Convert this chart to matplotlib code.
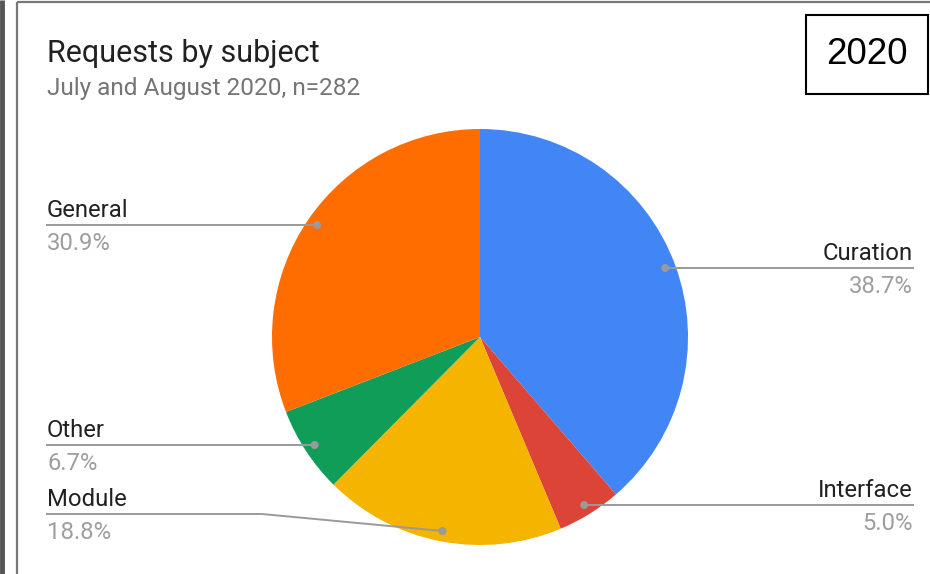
import numpy as np
import matplotlib.pyplot as plt
from matplotlib.patches import Rectangle, Circle

# chart data
subjects = ["Curation", "Interface", "Module", "Other", "General"]
shares = [38.7, 5.0, 18.8, 6.7, 30.9]
colors = ["#4285F4", "#DB4437", "#F4B400", "#0F9D58", "#FF6D01"]
title = "Requests by subject"
subtitle = "July and August 2020, n=282"
year_tag = "2020"

W, H = 930, 574
fig = plt.figure(figsize=(W / 100, H / 100), dpi=100)
ax = fig.add_axes([0, 0, 1, 1])

def Y(y):  # pixel row from top -> data y
    return H - y

cx, cy, R = 480, Y(337), 208
wedges, _ = ax.pie(shares, colors=colors, startangle=90, counterclock=False,
                   center=(cx, cy), radius=R, frame=True,
                   wedgeprops=dict(linewidth=0))
ax.set_xlim(0, W)
ax.set_ylim(0, H)
ax.set_aspect("equal")
ax.axis("off")

# frame lines
ax.plot([2, 2], [0, H], color="#555555", lw=3.5, solid_capstyle="butt")
ax.plot([17, 17], [0, Y(2)], color="#777777", lw=1.6, solid_capstyle="butt")
ax.plot([17, W], [Y(2), Y(2)], color="#777777", lw=1.6, solid_capstyle="butt")

# label layout: side, line y (px from top), elbow x
layout = {
    "Curation": ("right", 268, None),
    "Interface": ("right", 505, None),
    "Module": ("left", 514, 262),
    "Other": ("left", 445, None),
    "General": ("left", 225, None),
}

line_c = "#9a9a9a"
for w, name, val in zip(wedges, subjects, shares):
    ang = np.deg2rad((w.theta1 + w.theta2) / 2)
    dx = cx + 0.95 * R * np.cos(ang)
    dy = cy + 0.95 * R * np.sin(ang)
    side, ly, elbow = layout[name]
    ly = Y(ly)
    if side == "right":
        xe, ha = 913, "right"
    else:
        xe, ha = 47, "left"
    if elbow is None:
        ax.plot([dx, xe], [ly, ly], color=line_c, lw=1.4, zorder=3)
    else:
        ax.plot([dx, elbow, xe], [dy, ly, ly], color=line_c, lw=1.4, zorder=3)
    ax.add_patch(Circle((dx, dy if elbow else ly), 4, color=line_c, zorder=4, lw=0))
    ax.text(xe, ly + 8, name, ha=ha, va="baseline", fontsize=17.2,
            family="Roboto", color="#212121")
    ax.text(xe, ly - 25, f"{val:.1f}%", ha=ha, va="baseline", fontsize=17.2,
            family="Roboto", color="#9e9e9e")

ax.text(47, Y(62), title, ha="left", va="baseline", fontsize=22,
        family="Roboto", color="#212121")
ax.text(47, Y(95), subtitle, ha="left", va="baseline", fontsize=17.6,
        family="Roboto", color="#757575")

# year tag box
ax.add_patch(Rectangle((806, Y(94)), 122, 79, fill=False, ec="black", lw=1.5))
ax.text(867, Y(55), year_tag, ha="center", va="center", fontsize=26.5,
        family="Liberation Sans", color="black")

fig.savefig("out.png", dpi=100)
